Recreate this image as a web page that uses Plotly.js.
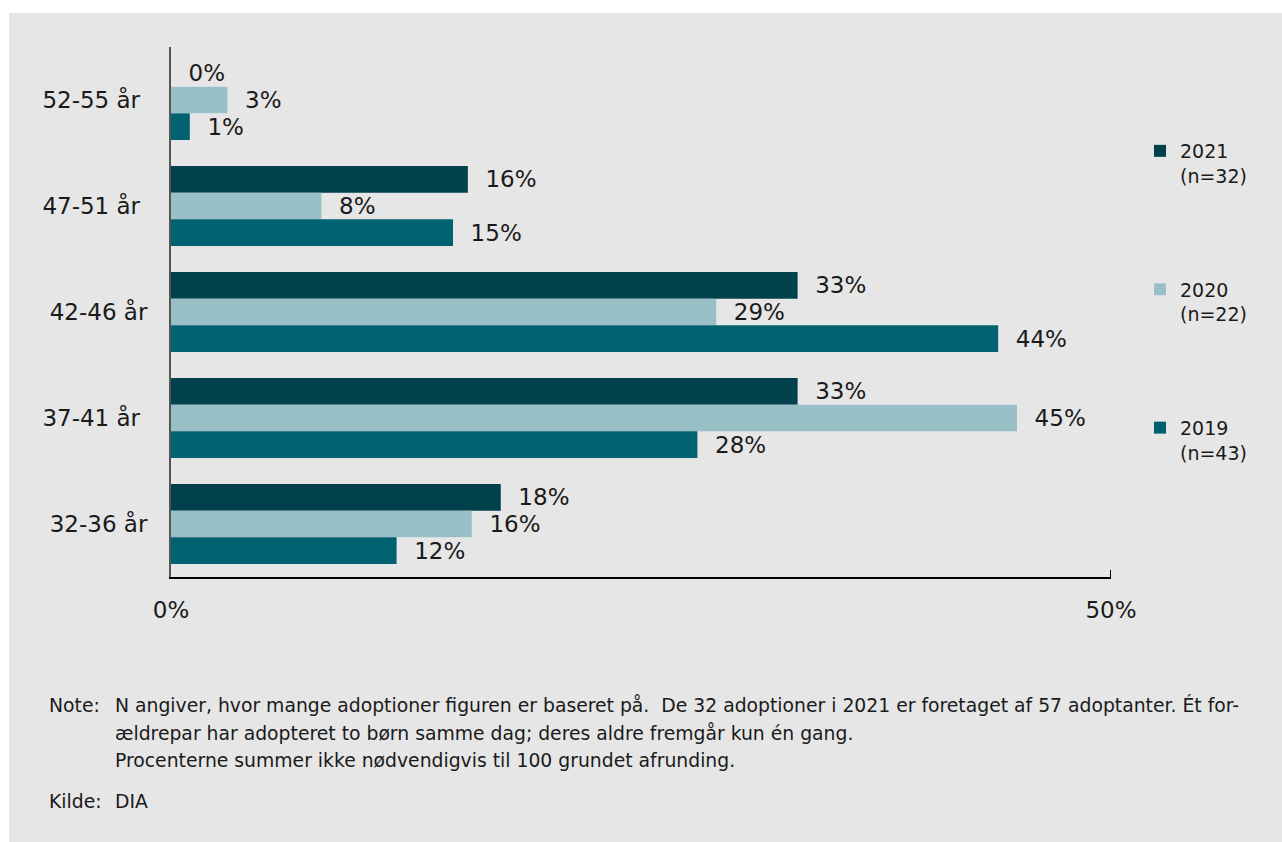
<!DOCTYPE html>
<html>
<head>
<meta charset="utf-8">
<script src="https://cdn.plot.ly/plotly-3.0.1.min.js"></script>
<style>
  html, body { margin: 0; padding: 0; background: #ffffff; }
  #chart { position: absolute; left: 9px; top: 13px; width: 1273px; height: 829px; }
</style>
</head>
<body>
<div id="chart"></div>
<script>
// ---- data ----
const ageGroups = ['52-55 år\u00a0', '47-51 år\u00a0', '42-46 år', '37-41 år\u00a0', '32-36 år'];
const values2021 = [0, 15.79, 33.33, 33.33, 17.54];
const values2020 = [3.0, 8.0, 29.0, 45.0, 16.0];
const values2019 = [1.0, 15.0, 44.0, 28.0, 12.0];
const seriesNames = ['2021<br>(n=32)', '2020<br>(n=22)', '2019<br>(n=43)'];
const xTickVals = [0, 50];
const xTickText = ['0%', '50%'];
const noteLines = [
  'N angiver, hvor mange adoptioner figuren er baseret på.\u00a0 De 32 adoptioner i 2021 er foretaget af 57 adoptanter. Ét for-',
  'ældrepar har adopteret to børn samme dag; deres aldre fremgår kun én gang.',
  'Procenterne summer ikke nødvendigvis til 100 grundet afrunding.'
];
const sourceText = 'DIA';

// ---- style ----
const colors = ['#01414c', '#9ac0c7', '#006170'];
const FONT = 'DejaVu Sans, Verdana, sans-serif';
const TXT = '#1a1a1a';

// plot area in page pixels (div offset 9,13)
const PL = 171, PR = 1111, PT = 47, PB = 577;
const px = x => (x - PL) / (PR - PL);
const py = y => 1 - (y - PT) / (PB - PT);

const allValues = [values2021, values2020, values2019];
const traces = allValues.map((vals, i) => ({
  type: 'bar',
  orientation: 'h',
  name: seriesNames[i],
  legendgroup: 'g' + i,
  y: ageGroups,
  x: vals,
  marker: { color: colors[i], line: { width: 0 } },
  texttemplate: '\u00a0\u00a0%{x:.0f}%',
  textposition: 'outside',
  cliponaxis: false,
  textfont: { family: FONT, size: 23, color: TXT },
  hoverinfo: 'skip'
}));

const NOTE_SIZE = 18.8;
const TEXT_X = 113;
const annotations = [];
const noteY = [705, 733, 760];
annotations.push({
  text: 'Note:', xref: 'paper', yref: 'paper', x: px(47), y: py(noteY[0]),
  xanchor: 'left', yanchor: 'middle', showarrow: false,
  font: { family: FONT, size: NOTE_SIZE, color: TXT }
});
noteLines.forEach((t, i) => annotations.push({
  text: t, xref: 'paper', yref: 'paper', x: px(TEXT_X), y: py(noteY[i]),
  xanchor: 'left', yanchor: 'middle', showarrow: false,
  font: { family: FONT, size: NOTE_SIZE, color: TXT }
}));
annotations.push({
  text: 'Kilde:', xref: 'paper', yref: 'paper', x: px(47), y: py(801),
  xanchor: 'left', yanchor: 'middle', showarrow: false,
  font: { family: FONT, size: NOTE_SIZE, color: TXT }
});
annotations.push({
  text: sourceText, xref: 'paper', yref: 'paper', x: px(TEXT_X), y: py(801),
  xanchor: 'left', yanchor: 'middle', showarrow: false,
  font: { family: FONT, size: NOTE_SIZE, color: TXT }
});

const layout = {
  width: 1273, height: 829,
  paper_bgcolor: '#e6e6e6',
  plot_bgcolor: '#e6e6e6',
  margin: { l: PL - 9, r: 1282 - PR, t: PT - 13, b: 842 - PB, pad: 0 },
  barmode: 'group',
  bargap: 0.245,
  bargroupgap: 0,
  font: { family: FONT, size: 22, color: TXT },
  showlegend: true,
  legend: {
    x: px(1140), y: py(132), xanchor: 'left', yanchor: 'top',
    bgcolor: 'rgba(0,0,0,0)', borderwidth: 0,
    font: { family: FONT, size: 19, color: TXT },
    valign: 'top',
    tracegroupgap: 86,
    itemclick: false, itemdoubleclick: false
  },
  xaxis: {
    range: [0, 50],
    tickvals: xTickVals,
    ticktext: xTickText,
    showgrid: false, zeroline: false,
    showline: true, linecolor: '#000000', linewidth: 1.5,
    ticks: '',
    ticklabelstandoff: 12,
    tickfont: { family: FONT, size: 23, color: TXT },
    fixedrange: true
  },
  yaxis: {
    type: 'category',
    categoryorder: 'array', categoryarray: ageGroups,
    range: [4.5, -0.5],
    showgrid: false, zeroline: false,
    showline: true, linecolor: '#555555', linewidth: 2,
    ticks: '',
    ticklabelstandoff: 17,
    tickfont: { family: FONT, size: 23, color: TXT },
    fixedrange: true
  },
  shapes: [{
    type: 'line', xref: 'x', yref: 'paper',
    x0: 50, x1: 50, y0: 0, y1: 7 / (PB - PT),
    line: { color: '#000000', width: 2 }
  }],
  annotations: annotations
};

Plotly.newPlot('chart', traces, layout, { displayModeBar: false, staticPlot: true });
</script>
</body>
</html>
